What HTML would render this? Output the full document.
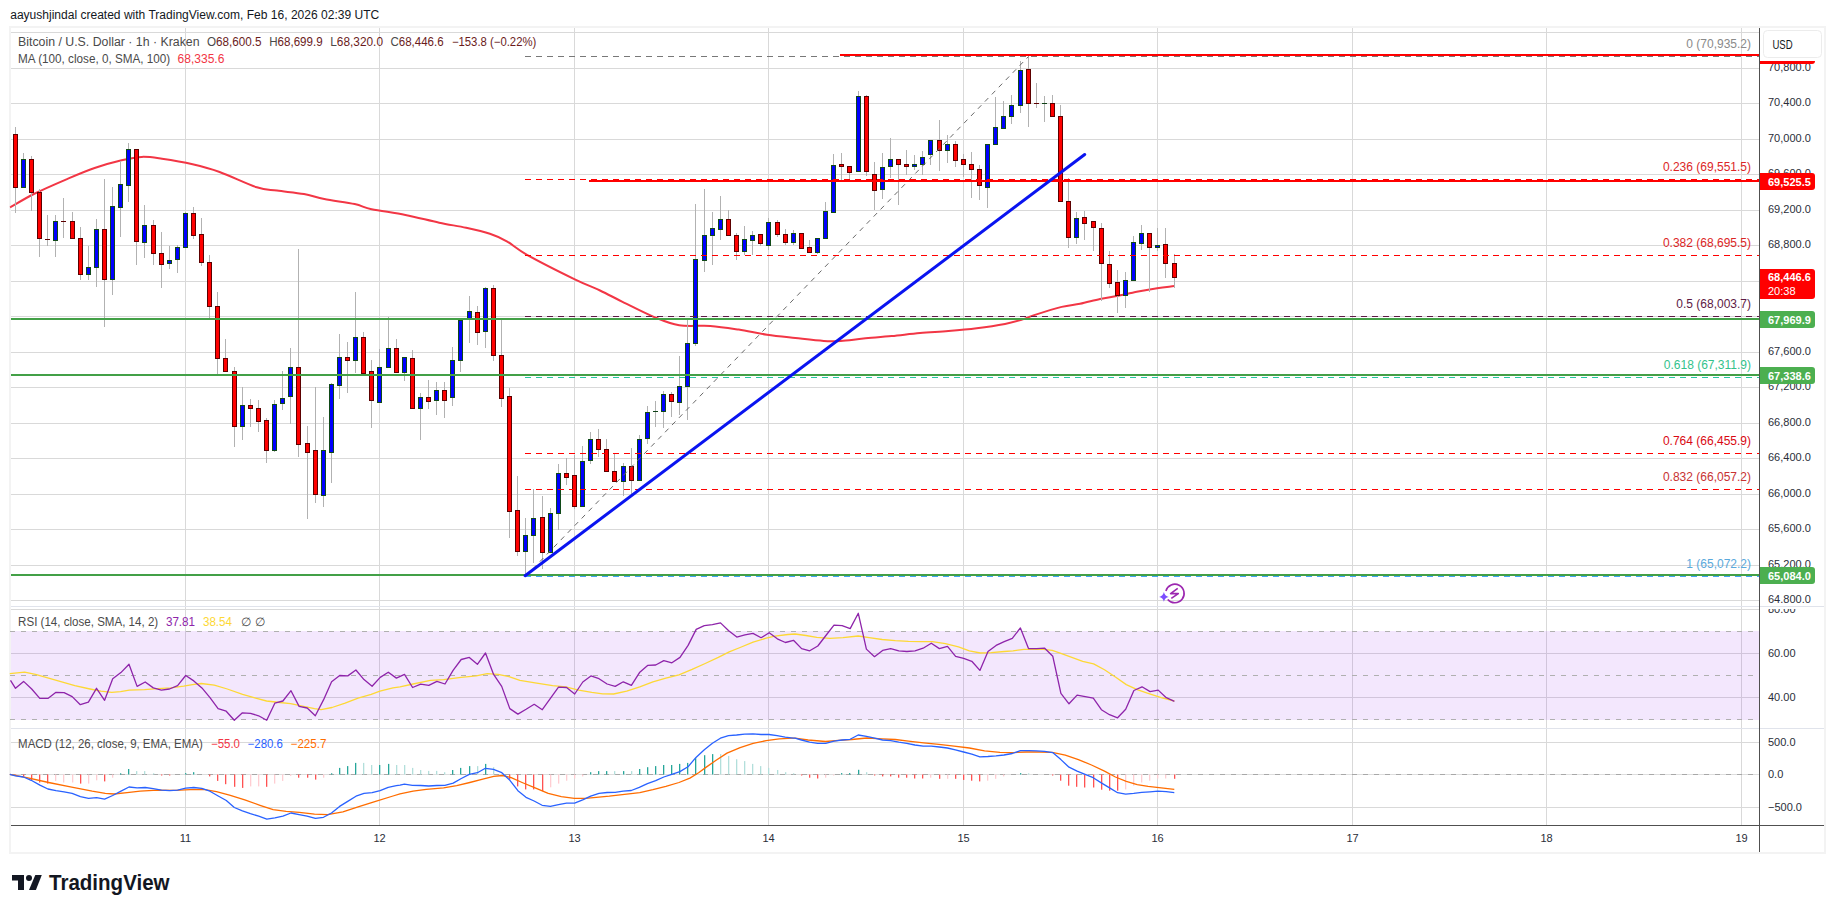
<!DOCTYPE html><html><head><meta charset="utf-8"><style>html,body{margin:0;padding:0;background:#fff;width:1835px;height:913px;overflow:hidden}svg{display:block}text{font-family:"Liberation Sans",sans-serif}</style></head><body>
<svg width="1835" height="913" viewBox="0 0 1835 913">
<rect x="0" y="0" width="1835" height="913" fill="#ffffff"/>
<text x="10.2" y="18.8" font-size="12" fill="#131722" textLength="369" lengthAdjust="spacingAndGlyphs">aayushjindal created with TradingView.com, Feb 16, 2026 02:39 UTC</text>
<rect x="9" y="26" width="1817" height="828" fill="#f3f3f3"/>
<rect x="11" y="28" width="1813" height="824" fill="#ffffff"/>
<g shape-rendering="crispEdges"><rect x="185" y="28" width="1" height="797" fill="#d9d9d9"/><rect x="379" y="28" width="1" height="797" fill="#d9d9d9"/><rect x="574" y="28" width="1" height="797" fill="#d9d9d9"/><rect x="768" y="28" width="1" height="797" fill="#d9d9d9"/><rect x="963" y="28" width="1" height="797" fill="#d9d9d9"/><rect x="1157" y="28" width="1" height="797" fill="#d9d9d9"/><rect x="1352" y="28" width="1" height="797" fill="#d9d9d9"/><rect x="1546" y="28" width="1" height="797" fill="#d9d9d9"/><rect x="1741" y="28" width="1" height="797" fill="#d9d9d9"/><rect x="11" y="32" width="1748" height="1" fill="#d9d9d9"/><rect x="11" y="68" width="1748" height="1" fill="#d9d9d9"/><rect x="11" y="103" width="1748" height="1" fill="#d9d9d9"/><rect x="11" y="139" width="1748" height="1" fill="#d9d9d9"/><rect x="11" y="174" width="1748" height="1" fill="#d9d9d9"/><rect x="11" y="210" width="1748" height="1" fill="#d9d9d9"/><rect x="11" y="245" width="1748" height="1" fill="#d9d9d9"/><rect x="11" y="281" width="1748" height="1" fill="#d9d9d9"/><rect x="11" y="316" width="1748" height="1" fill="#d9d9d9"/><rect x="11" y="352" width="1748" height="1" fill="#d9d9d9"/><rect x="11" y="387" width="1748" height="1" fill="#d9d9d9"/><rect x="11" y="423" width="1748" height="1" fill="#d9d9d9"/><rect x="11" y="458" width="1748" height="1" fill="#d9d9d9"/><rect x="11" y="494" width="1748" height="1" fill="#d9d9d9"/><rect x="11" y="529" width="1748" height="1" fill="#d9d9d9"/><rect x="11" y="565" width="1748" height="1" fill="#d9d9d9"/><rect x="11" y="600" width="1748" height="1" fill="#d9d9d9"/></g>
<g shape-rendering="crispEdges"><rect x="11" y="609" width="1748" height="1" fill="#d9d9d9"/><rect x="11" y="653" width="1748" height="1" fill="#d9d9d9"/><rect x="11" y="697" width="1748" height="1" fill="#d9d9d9"/><rect x="11" y="742" width="1748" height="1" fill="#d9d9d9"/><rect x="11" y="807" width="1748" height="1" fill="#d9d9d9"/></g>
<rect x="11" y="631" width="1748" height="89" fill="rgb(149,40,237)" fill-opacity="0.11"/>
<rect x="11" y="774" width="1748" height="1" fill="#dedede"/>
<line x1="10" y1="631.5" x2="1759" y2="631.5" stroke="#b0b0b0" stroke-width="1" stroke-dasharray="5 6" shape-rendering="crispEdges"/>
<line x1="10" y1="675.5" x2="1759" y2="675.5" stroke="#b0b0b0" stroke-width="1" stroke-dasharray="5 6" shape-rendering="crispEdges"/>
<line x1="10" y1="719.5" x2="1759" y2="719.5" stroke="#b0b0b0" stroke-width="1" stroke-dasharray="5 6" shape-rendering="crispEdges"/>
<line x1="10" y1="774.5" x2="1759" y2="774.5" stroke="#a8a8a8" stroke-width="1" stroke-dasharray="5 6" shape-rendering="crispEdges"/>
<path d="M10.10,207.50 C14.05,205.25 24.22,198.78 33.80,194.00 C43.38,189.22 57.47,183.13 67.60,178.80 C77.73,174.47 85.60,171.08 94.60,168.00 C103.60,164.92 113.72,162.15 121.60,160.30 C129.48,158.45 135.17,157.15 141.90,156.90 C148.63,156.65 153.55,157.57 162.00,158.80 C170.45,160.03 183.00,162.10 192.60,164.30 C202.20,166.50 208.90,168.17 219.60,172.00 C230.30,175.83 247.23,184.20 256.80,187.30 C266.37,190.40 269.13,189.48 277.00,190.60 C284.87,191.72 296.12,192.58 304.00,194.00 C311.88,195.42 315.85,197.42 324.30,199.10 C332.75,200.78 346.82,202.42 354.70,204.10 C362.58,205.78 363.15,207.40 371.60,209.20 C380.05,211.00 394.13,212.65 405.40,214.90 C416.67,217.15 429.07,220.55 439.20,222.70 C449.33,224.85 457.75,225.95 466.20,227.80 C474.65,229.65 483.13,231.55 489.90,233.80 C496.67,236.05 500.62,237.80 506.80,241.30 C512.98,244.80 515.75,248.50 527.00,254.80 C538.25,261.10 562.13,273.15 574.30,279.10 C586.47,285.05 591.97,286.72 600.00,290.50 C608.03,294.28 613.55,297.42 622.50,301.80 C631.45,306.18 644.25,312.88 653.70,316.80 C663.15,320.72 669.77,323.78 679.20,325.30 C688.63,326.82 700.38,325.18 710.30,325.90 C720.22,326.62 729.25,328.13 738.70,329.60 C748.15,331.07 757.55,333.30 767.00,334.70 C776.45,336.10 785.95,336.97 795.40,338.00 C804.85,339.03 816.15,340.42 823.70,340.90 C831.25,341.38 834.08,341.28 840.70,340.90 C847.32,340.52 854.90,339.40 863.40,338.60 C871.90,337.80 882.27,337.03 891.70,336.10 C901.13,335.17 910.55,333.85 920.00,333.00 C929.45,332.15 938.95,331.80 948.40,331.00 C957.85,330.20 967.27,329.38 976.70,328.20 C986.13,327.02 997.45,325.33 1005.00,323.90 C1012.55,322.47 1017.27,321.02 1022.00,319.60 C1026.73,318.18 1026.78,317.52 1033.40,315.40 C1040.02,313.28 1053.93,308.83 1061.70,306.90 C1069.47,304.97 1073.62,305.13 1080.00,303.80 C1086.38,302.47 1093.87,300.20 1100.00,298.90 C1106.13,297.60 1111.37,297.03 1116.80,296.00 C1122.23,294.97 1127.12,293.80 1132.60,292.70 C1138.08,291.60 1142.80,290.50 1149.70,289.40 C1156.60,288.30 1169.95,286.65 1174.00,286.10" fill="none" stroke="#f23645" stroke-width="2" stroke-linejoin="round"/>
<g shape-rendering="crispEdges"><rect x="15" y="127" width="1" height="86" fill="#b2b2b2"/><rect x="23" y="153" width="1" height="35" fill="#b2b2b2"/><rect x="31" y="156" width="1" height="55" fill="#b2b2b2"/><rect x="39" y="189" width="1" height="68" fill="#b2b2b2"/><rect x="47" y="215" width="1" height="31" fill="#b2b2b2"/><rect x="55" y="215" width="1" height="42" fill="#b2b2b2"/><rect x="63" y="198" width="1" height="40" fill="#b2b2b2"/><rect x="72" y="212" width="1" height="27" fill="#b2b2b2"/><rect x="80" y="227" width="1" height="53" fill="#b2b2b2"/><rect x="88" y="246" width="1" height="34" fill="#b2b2b2"/><rect x="96" y="219" width="1" height="68" fill="#b2b2b2"/><rect x="104" y="179" width="1" height="148" fill="#b2b2b2"/><rect x="112" y="187" width="1" height="108" fill="#b2b2b2"/><rect x="120" y="161" width="1" height="76" fill="#b2b2b2"/><rect x="128" y="143" width="1" height="59" fill="#b2b2b2"/><rect x="136" y="149" width="1" height="116" fill="#b2b2b2"/><rect x="144" y="205" width="1" height="53" fill="#b2b2b2"/><rect x="153" y="220" width="1" height="45" fill="#b2b2b2"/><rect x="161" y="232" width="1" height="56" fill="#b2b2b2"/><rect x="169" y="246" width="1" height="23" fill="#b2b2b2"/><rect x="177" y="245" width="1" height="28" fill="#b2b2b2"/><rect x="185" y="212" width="1" height="36" fill="#b2b2b2"/><rect x="193" y="207" width="1" height="32" fill="#b2b2b2"/><rect x="201" y="218" width="1" height="48" fill="#b2b2b2"/><rect x="209" y="255" width="1" height="64" fill="#b2b2b2"/><rect x="217" y="292" width="1" height="82" fill="#b2b2b2"/><rect x="225" y="339" width="1" height="33" fill="#b2b2b2"/><rect x="234" y="367" width="1" height="80" fill="#b2b2b2"/><rect x="242" y="387" width="1" height="53" fill="#b2b2b2"/><rect x="250" y="399" width="1" height="28" fill="#b2b2b2"/><rect x="258" y="400" width="1" height="32" fill="#b2b2b2"/><rect x="266" y="418" width="1" height="45" fill="#b2b2b2"/><rect x="274" y="400" width="1" height="52" fill="#b2b2b2"/><rect x="282" y="371" width="1" height="39" fill="#b2b2b2"/><rect x="290" y="348" width="1" height="76" fill="#b2b2b2"/><rect x="298" y="249" width="1" height="208" fill="#b2b2b2"/><rect x="307" y="426" width="1" height="93" fill="#b2b2b2"/><rect x="315" y="387" width="1" height="116" fill="#b2b2b2"/><rect x="323" y="417" width="1" height="90" fill="#b2b2b2"/><rect x="331" y="383" width="1" height="100" fill="#b2b2b2"/><rect x="339" y="334" width="1" height="65" fill="#b2b2b2"/><rect x="347" y="342" width="1" height="51" fill="#b2b2b2"/><rect x="355" y="292" width="1" height="81" fill="#b2b2b2"/><rect x="363" y="332" width="1" height="42" fill="#b2b2b2"/><rect x="371" y="360" width="1" height="68" fill="#b2b2b2"/><rect x="379" y="349" width="1" height="54" fill="#b2b2b2"/><rect x="388" y="317" width="1" height="51" fill="#b2b2b2"/><rect x="396" y="339" width="1" height="34" fill="#b2b2b2"/><rect x="404" y="357" width="1" height="24" fill="#b2b2b2"/><rect x="412" y="350" width="1" height="59" fill="#b2b2b2"/><rect x="420" y="393" width="1" height="47" fill="#b2b2b2"/><rect x="428" y="380" width="1" height="29" fill="#b2b2b2"/><rect x="436" y="382" width="1" height="33" fill="#b2b2b2"/><rect x="444" y="382" width="1" height="36" fill="#b2b2b2"/><rect x="452" y="347" width="1" height="59" fill="#b2b2b2"/><rect x="460" y="319" width="1" height="53" fill="#b2b2b2"/><rect x="469" y="296" width="1" height="47" fill="#b2b2b2"/><rect x="477" y="306" width="1" height="39" fill="#b2b2b2"/><rect x="485" y="287" width="1" height="61" fill="#b2b2b2"/><rect x="493" y="285" width="1" height="76" fill="#b2b2b2"/><rect x="501" y="320" width="1" height="87" fill="#b2b2b2"/><rect x="509" y="388" width="1" height="150" fill="#b2b2b2"/><rect x="517" y="476" width="1" height="80" fill="#b2b2b2"/><rect x="525" y="518" width="1" height="59" fill="#b2b2b2"/><rect x="533" y="489" width="1" height="74" fill="#b2b2b2"/><rect x="542" y="496" width="1" height="73" fill="#b2b2b2"/><rect x="550" y="508" width="1" height="45" fill="#b2b2b2"/><rect x="558" y="464" width="1" height="66" fill="#b2b2b2"/><rect x="566" y="458" width="1" height="27" fill="#b2b2b2"/><rect x="574" y="455" width="1" height="54" fill="#b2b2b2"/><rect x="582" y="446" width="1" height="61" fill="#b2b2b2"/><rect x="590" y="432" width="1" height="32" fill="#b2b2b2"/><rect x="598" y="429" width="1" height="28" fill="#b2b2b2"/><rect x="606" y="439" width="1" height="33" fill="#b2b2b2"/><rect x="614" y="454" width="1" height="28" fill="#b2b2b2"/><rect x="623" y="463" width="1" height="33" fill="#b2b2b2"/><rect x="631" y="448" width="1" height="47" fill="#b2b2b2"/><rect x="639" y="435" width="1" height="46" fill="#b2b2b2"/><rect x="647" y="406" width="1" height="38" fill="#b2b2b2"/><rect x="655" y="401" width="1" height="26" fill="#b2b2b2"/><rect x="663" y="391" width="1" height="37" fill="#b2b2b2"/><rect x="671" y="392" width="1" height="25" fill="#b2b2b2"/><rect x="679" y="356" width="1" height="59" fill="#b2b2b2"/><rect x="687" y="320" width="1" height="100" fill="#b2b2b2"/><rect x="695" y="204" width="1" height="142" fill="#b2b2b2"/><rect x="704" y="189" width="1" height="83" fill="#b2b2b2"/><rect x="712" y="212" width="1" height="53" fill="#b2b2b2"/><rect x="720" y="196" width="1" height="44" fill="#b2b2b2"/><rect x="728" y="210" width="1" height="26" fill="#b2b2b2"/><rect x="736" y="233" width="1" height="27" fill="#b2b2b2"/><rect x="744" y="226" width="1" height="29" fill="#b2b2b2"/><rect x="752" y="231" width="1" height="24" fill="#b2b2b2"/><rect x="760" y="234" width="1" height="12" fill="#b2b2b2"/><rect x="768" y="218" width="1" height="32" fill="#b2b2b2"/><rect x="777" y="220" width="1" height="17" fill="#b2b2b2"/><rect x="785" y="229" width="1" height="16" fill="#b2b2b2"/><rect x="793" y="230" width="1" height="15" fill="#b2b2b2"/><rect x="801" y="233" width="1" height="16" fill="#b2b2b2"/><rect x="809" y="240" width="1" height="13" fill="#b2b2b2"/><rect x="817" y="238" width="1" height="16" fill="#b2b2b2"/><rect x="825" y="202" width="1" height="37" fill="#b2b2b2"/><rect x="833" y="154" width="1" height="59" fill="#b2b2b2"/><rect x="841" y="153" width="1" height="27" fill="#b2b2b2"/><rect x="849" y="166" width="1" height="13" fill="#b2b2b2"/><rect x="858" y="91" width="1" height="81" fill="#b2b2b2"/><rect x="866" y="95" width="1" height="81" fill="#b2b2b2"/><rect x="874" y="162" width="1" height="48" fill="#b2b2b2"/><rect x="882" y="153" width="1" height="46" fill="#b2b2b2"/><rect x="890" y="138" width="1" height="40" fill="#b2b2b2"/><rect x="898" y="159" width="1" height="46" fill="#b2b2b2"/><rect x="906" y="150" width="1" height="25" fill="#b2b2b2"/><rect x="914" y="155" width="1" height="15" fill="#b2b2b2"/><rect x="922" y="151" width="1" height="24" fill="#b2b2b2"/><rect x="930" y="140" width="1" height="25" fill="#b2b2b2"/><rect x="939" y="120" width="1" height="51" fill="#b2b2b2"/><rect x="947" y="135" width="1" height="28" fill="#b2b2b2"/><rect x="955" y="141" width="1" height="26" fill="#b2b2b2"/><rect x="963" y="154" width="1" height="23" fill="#b2b2b2"/><rect x="971" y="152" width="1" height="46" fill="#b2b2b2"/><rect x="979" y="165" width="1" height="35" fill="#b2b2b2"/><rect x="987" y="144" width="1" height="64" fill="#b2b2b2"/><rect x="995" y="97" width="1" height="48" fill="#b2b2b2"/><rect x="1003" y="101" width="1" height="28" fill="#b2b2b2"/><rect x="1011" y="95" width="1" height="29" fill="#b2b2b2"/><rect x="1020" y="61" width="1" height="52" fill="#b2b2b2"/><rect x="1028" y="56" width="1" height="71" fill="#b2b2b2"/><rect x="1036" y="83" width="1" height="25" fill="#b2b2b2"/><rect x="1044" y="96" width="1" height="26" fill="#b2b2b2"/><rect x="1052" y="95" width="1" height="22" fill="#b2b2b2"/><rect x="1060" y="105" width="1" height="97" fill="#b2b2b2"/><rect x="1068" y="178" width="1" height="70" fill="#b2b2b2"/><rect x="1076" y="212" width="1" height="32" fill="#b2b2b2"/><rect x="1084" y="211" width="1" height="29" fill="#b2b2b2"/><rect x="1093" y="221" width="1" height="30" fill="#b2b2b2"/><rect x="1101" y="223" width="1" height="78" fill="#b2b2b2"/><rect x="1109" y="251" width="1" height="37" fill="#b2b2b2"/><rect x="1117" y="270" width="1" height="43" fill="#b2b2b2"/><rect x="1125" y="272" width="1" height="36" fill="#b2b2b2"/><rect x="1133" y="236" width="1" height="45" fill="#b2b2b2"/><rect x="1141" y="225" width="1" height="25" fill="#b2b2b2"/><rect x="1149" y="233" width="1" height="59" fill="#b2b2b2"/><rect x="1157" y="228" width="1" height="23" fill="#b2b2b2"/><rect x="1165" y="228" width="1" height="50" fill="#b2b2b2"/><rect x="1174" y="254" width="1" height="34" fill="#b2b2b2"/><rect x="13" y="134" width="5" height="54" fill="#5c0000"/><rect x="14" y="135" width="3" height="52" fill="#ff0000"/><rect x="21" y="159" width="5" height="29" fill="#104a18"/><rect x="22" y="160" width="3" height="27" fill="#0000ff"/><rect x="29" y="159" width="5" height="34" fill="#5c0000"/><rect x="30" y="160" width="3" height="32" fill="#ff0000"/><rect x="37" y="192" width="5" height="47" fill="#5c0000"/><rect x="38" y="193" width="3" height="45" fill="#ff0000"/><rect x="45" y="239" width="5" height="1" fill="#5c0000"/><rect x="53" y="221" width="5" height="20" fill="#104a18"/><rect x="54" y="222" width="3" height="18" fill="#0000ff"/><rect x="61" y="221" width="5" height="1" fill="#5c0000"/><rect x="70" y="221" width="5" height="18" fill="#5c0000"/><rect x="71" y="222" width="3" height="16" fill="#ff0000"/><rect x="78" y="238" width="5" height="37" fill="#5c0000"/><rect x="79" y="239" width="3" height="35" fill="#ff0000"/><rect x="86" y="267" width="5" height="8" fill="#104a18"/><rect x="87" y="268" width="3" height="6" fill="#0000ff"/><rect x="94" y="229" width="5" height="39" fill="#104a18"/><rect x="95" y="230" width="3" height="37" fill="#0000ff"/><rect x="102" y="229" width="5" height="51" fill="#5c0000"/><rect x="103" y="230" width="3" height="49" fill="#ff0000"/><rect x="110" y="206" width="5" height="74" fill="#104a18"/><rect x="111" y="207" width="3" height="72" fill="#0000ff"/><rect x="118" y="184" width="5" height="24" fill="#104a18"/><rect x="119" y="185" width="3" height="22" fill="#0000ff"/><rect x="126" y="149" width="5" height="37" fill="#104a18"/><rect x="127" y="150" width="3" height="35" fill="#0000ff"/><rect x="134" y="149" width="5" height="93" fill="#5c0000"/><rect x="135" y="150" width="3" height="91" fill="#ff0000"/><rect x="142" y="225" width="5" height="18" fill="#104a18"/><rect x="143" y="226" width="3" height="16" fill="#0000ff"/><rect x="151" y="225" width="5" height="29" fill="#5c0000"/><rect x="152" y="226" width="3" height="27" fill="#ff0000"/><rect x="159" y="253" width="5" height="12" fill="#5c0000"/><rect x="160" y="254" width="3" height="10" fill="#ff0000"/><rect x="167" y="260" width="5" height="4" fill="#104a18"/><rect x="168" y="261" width="3" height="2" fill="#0000ff"/><rect x="175" y="247" width="5" height="13" fill="#104a18"/><rect x="176" y="248" width="3" height="11" fill="#0000ff"/><rect x="183" y="213" width="5" height="35" fill="#104a18"/><rect x="184" y="214" width="3" height="33" fill="#0000ff"/><rect x="191" y="213" width="5" height="23" fill="#5c0000"/><rect x="192" y="214" width="3" height="21" fill="#ff0000"/><rect x="199" y="234" width="5" height="29" fill="#5c0000"/><rect x="200" y="235" width="3" height="27" fill="#ff0000"/><rect x="207" y="262" width="5" height="45" fill="#5c0000"/><rect x="208" y="263" width="3" height="43" fill="#ff0000"/><rect x="215" y="306" width="5" height="53" fill="#5c0000"/><rect x="216" y="307" width="3" height="51" fill="#ff0000"/><rect x="223" y="358" width="5" height="14" fill="#5c0000"/><rect x="224" y="359" width="3" height="12" fill="#ff0000"/><rect x="232" y="371" width="5" height="56" fill="#5c0000"/><rect x="233" y="372" width="3" height="54" fill="#ff0000"/><rect x="240" y="405" width="5" height="22" fill="#104a18"/><rect x="241" y="406" width="3" height="20" fill="#0000ff"/><rect x="248" y="405" width="5" height="4" fill="#5c0000"/><rect x="249" y="406" width="3" height="2" fill="#ff0000"/><rect x="256" y="408" width="5" height="14" fill="#5c0000"/><rect x="257" y="409" width="3" height="12" fill="#ff0000"/><rect x="264" y="420" width="5" height="31" fill="#5c0000"/><rect x="265" y="421" width="3" height="29" fill="#ff0000"/><rect x="272" y="404" width="5" height="47" fill="#104a18"/><rect x="273" y="405" width="3" height="45" fill="#0000ff"/><rect x="280" y="398" width="5" height="6" fill="#104a18"/><rect x="281" y="399" width="3" height="4" fill="#0000ff"/><rect x="288" y="367" width="5" height="30" fill="#104a18"/><rect x="289" y="368" width="3" height="28" fill="#0000ff"/><rect x="296" y="367" width="5" height="78" fill="#5c0000"/><rect x="297" y="368" width="3" height="76" fill="#ff0000"/><rect x="305" y="443" width="5" height="10" fill="#5c0000"/><rect x="306" y="444" width="3" height="8" fill="#ff0000"/><rect x="313" y="450" width="5" height="45" fill="#5c0000"/><rect x="314" y="451" width="3" height="43" fill="#ff0000"/><rect x="321" y="450" width="5" height="46" fill="#104a18"/><rect x="322" y="451" width="3" height="44" fill="#0000ff"/><rect x="329" y="384" width="5" height="69" fill="#104a18"/><rect x="330" y="385" width="3" height="67" fill="#0000ff"/><rect x="337" y="357" width="5" height="29" fill="#104a18"/><rect x="338" y="358" width="3" height="27" fill="#0000ff"/><rect x="345" y="357" width="5" height="4" fill="#5c0000"/><rect x="346" y="358" width="3" height="2" fill="#ff0000"/><rect x="353" y="337" width="5" height="24" fill="#104a18"/><rect x="354" y="338" width="3" height="22" fill="#0000ff"/><rect x="361" y="337" width="5" height="37" fill="#5c0000"/><rect x="362" y="338" width="3" height="35" fill="#ff0000"/><rect x="369" y="371" width="5" height="30" fill="#5c0000"/><rect x="370" y="372" width="3" height="28" fill="#ff0000"/><rect x="377" y="367" width="5" height="36" fill="#104a18"/><rect x="378" y="368" width="3" height="34" fill="#0000ff"/><rect x="386" y="348" width="5" height="20" fill="#104a18"/><rect x="387" y="349" width="3" height="18" fill="#0000ff"/><rect x="394" y="348" width="5" height="25" fill="#5c0000"/><rect x="395" y="349" width="3" height="23" fill="#ff0000"/><rect x="402" y="357" width="5" height="16" fill="#104a18"/><rect x="403" y="358" width="3" height="14" fill="#0000ff"/><rect x="410" y="358" width="5" height="51" fill="#5c0000"/><rect x="411" y="359" width="3" height="49" fill="#ff0000"/><rect x="418" y="397" width="5" height="12" fill="#104a18"/><rect x="419" y="398" width="3" height="10" fill="#0000ff"/><rect x="426" y="397" width="5" height="5" fill="#5c0000"/><rect x="427" y="398" width="3" height="3" fill="#ff0000"/><rect x="434" y="390" width="5" height="11" fill="#104a18"/><rect x="435" y="391" width="3" height="9" fill="#0000ff"/><rect x="442" y="390" width="5" height="11" fill="#5c0000"/><rect x="443" y="391" width="3" height="9" fill="#ff0000"/><rect x="450" y="360" width="5" height="38" fill="#104a18"/><rect x="451" y="361" width="3" height="36" fill="#0000ff"/><rect x="458" y="320" width="5" height="41" fill="#104a18"/><rect x="459" y="321" width="3" height="39" fill="#0000ff"/><rect x="467" y="311" width="5" height="8" fill="#104a18"/><rect x="468" y="312" width="3" height="6" fill="#0000ff"/><rect x="475" y="312" width="5" height="21" fill="#5c0000"/><rect x="476" y="313" width="3" height="19" fill="#ff0000"/><rect x="483" y="288" width="5" height="44" fill="#104a18"/><rect x="484" y="289" width="3" height="42" fill="#0000ff"/><rect x="491" y="288" width="5" height="68" fill="#5c0000"/><rect x="492" y="289" width="3" height="66" fill="#ff0000"/><rect x="499" y="355" width="5" height="44" fill="#5c0000"/><rect x="500" y="356" width="3" height="42" fill="#ff0000"/><rect x="507" y="396" width="5" height="116" fill="#5c0000"/><rect x="508" y="397" width="3" height="114" fill="#ff0000"/><rect x="515" y="510" width="5" height="42" fill="#5c0000"/><rect x="516" y="511" width="3" height="40" fill="#ff0000"/><rect x="523" y="535" width="5" height="17" fill="#104a18"/><rect x="524" y="536" width="3" height="15" fill="#0000ff"/><rect x="531" y="518" width="5" height="18" fill="#104a18"/><rect x="532" y="519" width="3" height="16" fill="#0000ff"/><rect x="540" y="517" width="5" height="36" fill="#5c0000"/><rect x="541" y="518" width="3" height="34" fill="#ff0000"/><rect x="548" y="513" width="5" height="40" fill="#104a18"/><rect x="549" y="514" width="3" height="38" fill="#0000ff"/><rect x="556" y="473" width="5" height="41" fill="#104a18"/><rect x="557" y="474" width="3" height="39" fill="#0000ff"/><rect x="564" y="473" width="5" height="5" fill="#5c0000"/><rect x="565" y="474" width="3" height="3" fill="#ff0000"/><rect x="572" y="475" width="5" height="32" fill="#5c0000"/><rect x="573" y="476" width="3" height="30" fill="#ff0000"/><rect x="580" y="461" width="5" height="46" fill="#104a18"/><rect x="581" y="462" width="3" height="44" fill="#0000ff"/><rect x="588" y="439" width="5" height="22" fill="#104a18"/><rect x="589" y="440" width="3" height="20" fill="#0000ff"/><rect x="596" y="439" width="5" height="11" fill="#5c0000"/><rect x="597" y="440" width="3" height="9" fill="#ff0000"/><rect x="604" y="449" width="5" height="23" fill="#5c0000"/><rect x="605" y="450" width="3" height="21" fill="#ff0000"/><rect x="612" y="471" width="5" height="11" fill="#5c0000"/><rect x="613" y="472" width="3" height="9" fill="#ff0000"/><rect x="621" y="466" width="5" height="16" fill="#104a18"/><rect x="622" y="467" width="3" height="14" fill="#0000ff"/><rect x="629" y="466" width="5" height="15" fill="#5c0000"/><rect x="630" y="467" width="3" height="13" fill="#ff0000"/><rect x="637" y="439" width="5" height="42" fill="#104a18"/><rect x="638" y="440" width="3" height="40" fill="#0000ff"/><rect x="645" y="412" width="5" height="27" fill="#104a18"/><rect x="646" y="413" width="3" height="25" fill="#0000ff"/><rect x="653" y="411" width="5" height="1" fill="#0d4015"/><rect x="661" y="394" width="5" height="18" fill="#104a18"/><rect x="662" y="395" width="3" height="16" fill="#0000ff"/><rect x="669" y="394" width="5" height="8" fill="#5c0000"/><rect x="670" y="395" width="3" height="6" fill="#ff0000"/><rect x="677" y="386" width="5" height="17" fill="#104a18"/><rect x="678" y="387" width="3" height="15" fill="#0000ff"/><rect x="685" y="343" width="5" height="44" fill="#104a18"/><rect x="686" y="344" width="3" height="42" fill="#0000ff"/><rect x="693" y="259" width="5" height="85" fill="#104a18"/><rect x="694" y="260" width="3" height="83" fill="#0000ff"/><rect x="702" y="235" width="5" height="26" fill="#104a18"/><rect x="703" y="236" width="3" height="24" fill="#0000ff"/><rect x="710" y="228" width="5" height="8" fill="#104a18"/><rect x="711" y="229" width="3" height="6" fill="#0000ff"/><rect x="718" y="219" width="5" height="11" fill="#104a18"/><rect x="719" y="220" width="3" height="9" fill="#0000ff"/><rect x="726" y="219" width="5" height="17" fill="#5c0000"/><rect x="727" y="220" width="3" height="15" fill="#ff0000"/><rect x="734" y="235" width="5" height="17" fill="#5c0000"/><rect x="735" y="236" width="3" height="15" fill="#ff0000"/><rect x="742" y="239" width="5" height="13" fill="#104a18"/><rect x="743" y="240" width="3" height="11" fill="#0000ff"/><rect x="750" y="235" width="5" height="6" fill="#104a18"/><rect x="751" y="236" width="3" height="4" fill="#0000ff"/><rect x="758" y="234" width="5" height="10" fill="#5c0000"/><rect x="759" y="235" width="3" height="8" fill="#ff0000"/><rect x="766" y="222" width="5" height="24" fill="#104a18"/><rect x="767" y="223" width="3" height="22" fill="#0000ff"/><rect x="775" y="222" width="5" height="13" fill="#5c0000"/><rect x="776" y="223" width="3" height="11" fill="#ff0000"/><rect x="783" y="234" width="5" height="9" fill="#5c0000"/><rect x="784" y="235" width="3" height="7" fill="#ff0000"/><rect x="791" y="233" width="5" height="10" fill="#104a18"/><rect x="792" y="234" width="3" height="8" fill="#0000ff"/><rect x="799" y="233" width="5" height="16" fill="#5c0000"/><rect x="800" y="234" width="3" height="14" fill="#ff0000"/><rect x="807" y="247" width="5" height="6" fill="#5c0000"/><rect x="808" y="248" width="3" height="4" fill="#ff0000"/><rect x="815" y="238" width="5" height="15" fill="#104a18"/><rect x="816" y="239" width="3" height="13" fill="#0000ff"/><rect x="823" y="211" width="5" height="28" fill="#104a18"/><rect x="824" y="212" width="3" height="26" fill="#0000ff"/><rect x="831" y="165" width="5" height="48" fill="#104a18"/><rect x="832" y="166" width="3" height="46" fill="#0000ff"/><rect x="839" y="164" width="5" height="3" fill="#5c0000"/><rect x="840" y="165" width="3" height="1" fill="#ff0000"/><rect x="847" y="166" width="5" height="7" fill="#5c0000"/><rect x="848" y="167" width="3" height="5" fill="#ff0000"/><rect x="856" y="96" width="5" height="76" fill="#104a18"/><rect x="857" y="97" width="3" height="74" fill="#0000ff"/><rect x="864" y="96" width="5" height="76" fill="#5c0000"/><rect x="865" y="97" width="3" height="74" fill="#ff0000"/><rect x="872" y="174" width="5" height="17" fill="#5c0000"/><rect x="873" y="175" width="3" height="15" fill="#ff0000"/><rect x="880" y="167" width="5" height="23" fill="#104a18"/><rect x="881" y="168" width="3" height="21" fill="#0000ff"/><rect x="888" y="159" width="5" height="8" fill="#104a18"/><rect x="889" y="160" width="3" height="6" fill="#0000ff"/><rect x="896" y="159" width="5" height="6" fill="#5c0000"/><rect x="897" y="160" width="3" height="4" fill="#ff0000"/><rect x="904" y="164" width="5" height="3" fill="#5c0000"/><rect x="905" y="165" width="3" height="1" fill="#ff0000"/><rect x="912" y="164" width="5" height="3" fill="#104a18"/><rect x="913" y="165" width="3" height="1" fill="#0000ff"/><rect x="920" y="157" width="5" height="8" fill="#104a18"/><rect x="921" y="158" width="3" height="6" fill="#0000ff"/><rect x="928" y="140" width="5" height="15" fill="#104a18"/><rect x="929" y="141" width="3" height="13" fill="#0000ff"/><rect x="937" y="140" width="5" height="11" fill="#5c0000"/><rect x="938" y="141" width="3" height="9" fill="#ff0000"/><rect x="945" y="144" width="5" height="7" fill="#104a18"/><rect x="946" y="145" width="3" height="5" fill="#0000ff"/><rect x="953" y="144" width="5" height="17" fill="#5c0000"/><rect x="954" y="145" width="3" height="15" fill="#ff0000"/><rect x="961" y="159" width="5" height="6" fill="#5c0000"/><rect x="962" y="160" width="3" height="4" fill="#ff0000"/><rect x="969" y="164" width="5" height="6" fill="#5c0000"/><rect x="970" y="165" width="3" height="4" fill="#ff0000"/><rect x="977" y="169" width="5" height="17" fill="#5c0000"/><rect x="978" y="170" width="3" height="15" fill="#ff0000"/><rect x="985" y="144" width="5" height="44" fill="#104a18"/><rect x="986" y="145" width="3" height="42" fill="#0000ff"/><rect x="993" y="127" width="5" height="18" fill="#104a18"/><rect x="994" y="128" width="3" height="16" fill="#0000ff"/><rect x="1001" y="116" width="5" height="13" fill="#104a18"/><rect x="1002" y="117" width="3" height="11" fill="#0000ff"/><rect x="1009" y="105" width="5" height="12" fill="#104a18"/><rect x="1010" y="106" width="3" height="10" fill="#0000ff"/><rect x="1018" y="70" width="5" height="36" fill="#104a18"/><rect x="1019" y="71" width="3" height="34" fill="#0000ff"/><rect x="1026" y="69" width="5" height="35" fill="#5c0000"/><rect x="1027" y="70" width="3" height="33" fill="#ff0000"/><rect x="1034" y="103" width="5" height="1" fill="#5c0000"/><rect x="1042" y="103" width="5" height="1" fill="#0d4015"/><rect x="1050" y="103" width="5" height="14" fill="#5c0000"/><rect x="1051" y="104" width="3" height="12" fill="#ff0000"/><rect x="1058" y="116" width="5" height="86" fill="#5c0000"/><rect x="1059" y="117" width="3" height="84" fill="#ff0000"/><rect x="1066" y="201" width="5" height="37" fill="#5c0000"/><rect x="1067" y="202" width="3" height="35" fill="#ff0000"/><rect x="1074" y="218" width="5" height="20" fill="#104a18"/><rect x="1075" y="219" width="3" height="18" fill="#0000ff"/><rect x="1082" y="217" width="5" height="7" fill="#5c0000"/><rect x="1083" y="218" width="3" height="5" fill="#ff0000"/><rect x="1091" y="221" width="5" height="7" fill="#5c0000"/><rect x="1092" y="222" width="3" height="5" fill="#ff0000"/><rect x="1099" y="228" width="5" height="36" fill="#5c0000"/><rect x="1100" y="229" width="3" height="34" fill="#ff0000"/><rect x="1107" y="264" width="5" height="20" fill="#5c0000"/><rect x="1108" y="265" width="3" height="18" fill="#ff0000"/><rect x="1115" y="282" width="5" height="14" fill="#5c0000"/><rect x="1116" y="283" width="3" height="12" fill="#ff0000"/><rect x="1123" y="280" width="5" height="16" fill="#104a18"/><rect x="1124" y="281" width="3" height="14" fill="#0000ff"/><rect x="1131" y="242" width="5" height="39" fill="#104a18"/><rect x="1132" y="243" width="3" height="37" fill="#0000ff"/><rect x="1139" y="233" width="5" height="11" fill="#104a18"/><rect x="1140" y="234" width="3" height="9" fill="#0000ff"/><rect x="1147" y="233" width="5" height="15" fill="#5c0000"/><rect x="1148" y="234" width="3" height="13" fill="#ff0000"/><rect x="1155" y="245" width="5" height="3" fill="#104a18"/><rect x="1156" y="246" width="3" height="1" fill="#0000ff"/><rect x="1163" y="244" width="5" height="20" fill="#5c0000"/><rect x="1164" y="245" width="3" height="18" fill="#ff0000"/><rect x="1172" y="263" width="5" height="15" fill="#5c0000"/><rect x="1173" y="264" width="3" height="13" fill="#ff0000"/></g>
<line x1="525" y1="56.5" x2="1759" y2="56.5" stroke="#787878" stroke-width="1" stroke-dasharray="6 5" shape-rendering="crispEdges"/>
<line x1="525" y1="179.5" x2="1759" y2="179.5" stroke="#ff0000" stroke-width="1" stroke-dasharray="6 5" shape-rendering="crispEdges"/>
<line x1="525" y1="255.5" x2="1759" y2="255.5" stroke="#ff0000" stroke-width="1" stroke-dasharray="6 5" shape-rendering="crispEdges"/>
<line x1="525" y1="316.5" x2="1759" y2="316.5" stroke="#5d1a45" stroke-width="1" stroke-dasharray="6 5" shape-rendering="crispEdges"/>
<line x1="525" y1="377.5" x2="1759" y2="377.5" stroke="#26c6a0" stroke-width="1" stroke-dasharray="6 5" shape-rendering="crispEdges"/>
<line x1="525" y1="453.5" x2="1759" y2="453.5" stroke="#ff0000" stroke-width="1" stroke-dasharray="6 5" shape-rendering="crispEdges"/>
<line x1="525" y1="489.5" x2="1759" y2="489.5" stroke="#ff0000" stroke-width="1" stroke-dasharray="6 5" shape-rendering="crispEdges"/>
<line x1="525" y1="576.5" x2="1759" y2="576.5" stroke="#42a5f5" stroke-width="1" stroke-dasharray="6 5" shape-rendering="crispEdges"/>
<line x1="526" y1="576" x2="1028.5" y2="56.5" stroke="#6a6a6a" stroke-width="1" stroke-dasharray="5 5"/>
<g shape-rendering="crispEdges"><rect x="840" y="54" width="919" height="2" fill="#ff0000"/><rect x="589" y="180" width="1170" height="2" fill="#ff0000"/><rect x="11" y="318" width="1748" height="2" fill="#43a047"/><rect x="11" y="374" width="1748" height="2" fill="#43a047"/><rect x="11" y="574" width="1748" height="2" fill="#43a047"/></g>
<line x1="525.1" y1="575.7" x2="1084.7" y2="154.5" stroke="#0a14f0" stroke-width="3" stroke-linecap="round"/>
<text x="1751" y="48.0" font-size="12" fill="#8a8a8a" text-anchor="end">0 (70,935.2)</text>
<text x="1751" y="170.7" font-size="12" fill="#dc2626" text-anchor="end">0.236 (69,551.5)</text>
<text x="1751" y="246.6" font-size="12" fill="#dc2626" text-anchor="end">0.382 (68,695.5)</text>
<text x="1751" y="307.9" font-size="12" fill="#5d1a45" text-anchor="end">0.5 (68,003.7)</text>
<text x="1751" y="369.3" font-size="12" fill="#33c28c" text-anchor="end">0.618 (67,311.9)</text>
<text x="1751" y="445.2" font-size="12" fill="#d90812" text-anchor="end">0.764 (66,455.9)</text>
<text x="1751" y="480.5" font-size="12" fill="#c83232" text-anchor="end">0.832 (66,057.2)</text>
<text x="1751" y="567.9" font-size="12" fill="#5aa9dc" text-anchor="end">1 (65,072.2)</text>
<polyline points="9.8,673.7 24.6,672.2 35.5,674.4 48.6,678.1 61.7,681.8 74.8,685.7 90.0,689.0 100.9,691.2 111.8,692.3 120.5,691.6 129.3,690.1 144.5,689.6 157.6,688.6 170.7,687.9 183.7,686.2 192.5,684.6 201.2,683.5 214.3,685.1 227.3,689.0 242.6,694.4 255.7,698.2 266.6,701.0 279.7,702.5 290.6,703.6 303.6,706.4 314.5,708.6 321.1,709.7 332.0,707.5 345.1,703.2 358.1,698.2 371.2,694.4 379.9,691.2 393.0,687.9 400.0,686.8 413.1,684.0 430.5,680.3 443.6,679.6 461.0,677.4 476.3,675.9 487.2,673.7 498.1,674.4 509.0,676.6 519.9,680.3 535.1,682.9 552.6,685.7 565.7,686.8 578.7,690.1 591.8,692.3 602.7,693.8 613.6,694.0 626.7,691.2 639.8,686.8 652.9,681.8 665.9,678.1 679.0,674.8 692.1,669.4 705.2,663.5 718.3,657.4 729.2,651.9 740.1,647.5 753.1,642.1 766.2,638.2 774.9,636.2 788.0,634.5 795.0,634.0 805.9,635.5 816.8,637.3 829.9,638.4 843.0,637.7 858.2,636.0 869.1,637.7 882.2,639.5 895.3,640.6 908.4,641.4 921.4,641.6 932.3,641.6 945.4,643.6 958.5,646.9 969.4,650.8 980.3,653.0 991.2,652.6 1004.3,651.5 1013.0,650.8 1023.9,649.3 1034.8,649.3 1043.5,649.3 1052.2,650.4 1060.9,653.4 1071.8,657.4 1082.7,661.3 1093.6,663.9 1104.5,669.8 1115.4,677.0 1126.3,684.6 1137.2,689.6 1148.1,693.4 1161.2,697.7 1174.3,701.0" fill="none" stroke="#fdd835" stroke-width="1.3" stroke-linejoin="round"/>
<polyline points="10.5,680.3 15.5,688.3 23.6,681.4 31.7,689.0 39.8,698.4 47.9,698.4 56.0,692.3 64.1,692.7 72.2,696.6 80.3,704.7 88.4,702.1 96.5,688.3 104.6,700.3 112.7,678.7 120.9,672.6 129.0,664.3 137.1,686.4 145.2,682.0 153.3,687.9 161.4,690.1 169.5,689.0 177.6,685.7 185.7,675.5 193.8,680.9 201.9,687.9 210.0,697.7 218.1,708.6 226.2,711.2 234.3,720.2 242.4,712.8 250.5,713.4 258.6,715.8 266.7,720.2 274.8,703.2 282.9,701.0 291.0,690.7 299.1,706.4 307.2,708.0 315.3,715.8 323.5,699.9 331.6,681.8 339.7,675.5 347.8,675.9 355.9,670.0 364.0,679.6 372.1,686.2 380.2,677.4 388.3,672.2 396.4,678.1 404.5,674.4 412.6,687.5 420.7,684.2 428.8,685.3 436.9,681.4 445.0,684.0 453.1,670.4 461.2,659.5 469.3,657.4 477.4,664.3 485.5,653.0 493.6,674.4 501.7,686.4 509.8,708.6 517.9,714.1 526.1,709.3 534.2,704.3 542.3,709.7 550.4,698.4 558.5,687.2 566.6,687.5 574.7,694.0 582.8,682.0 590.9,675.9 599.0,678.7 607.1,684.0 615.2,686.4 623.3,681.8 631.4,685.3 639.5,672.6 647.6,665.4 655.7,665.0 663.8,660.6 671.9,662.8 680.0,657.4 688.1,645.4 696.2,629.4 704.3,625.7 712.4,624.6 720.5,622.9 728.7,630.7 736.8,637.1 744.9,634.9 753.0,633.4 761.1,637.7 769.2,632.7 777.3,638.8 785.4,642.5 793.5,640.3 801.6,648.6 809.7,650.8 817.8,646.0 825.9,635.5 834.0,625.1 842.1,625.7 850.2,628.6 858.3,613.3 866.4,649.1 874.5,656.7 882.6,650.4 890.7,648.6 898.8,650.8 906.9,651.5 915.0,650.8 923.1,648.2 931.3,643.2 939.4,648.6 947.5,646.4 955.6,656.3 963.7,658.4 971.8,661.3 979.9,670.4 988.0,651.5 996.1,645.4 1004.2,641.6 1012.3,638.4 1020.4,627.9 1028.5,648.6 1036.6,648.6 1044.7,648.2 1052.8,656.3 1060.9,693.4 1069.0,703.8 1077.1,695.1 1085.2,696.6 1093.3,698.2 1101.4,709.7 1109.5,714.7 1117.6,717.8 1125.7,709.3 1133.9,690.5 1142.0,686.8 1150.1,691.6 1158.2,690.1 1166.3,697.7 1174.4,701.4" fill="none" stroke="#8e24aa" stroke-width="1.3" stroke-linejoin="round"/>
<g><rect x="15" y="774.5" width="1.3" height="1.0" fill="#ff5252"/><rect x="23" y="774.5" width="1.3" height="1.9" fill="#ff5252"/><rect x="31" y="774.5" width="1.3" height="5.4" fill="#ff5252"/><rect x="39" y="774.5" width="1.3" height="8.0" fill="#ff5252"/><rect x="47" y="774.5" width="1.3" height="9.1" fill="#ff5252"/><rect x="55" y="774.5" width="1.3" height="6.4" fill="#ffcdd2"/><rect x="63" y="774.5" width="1.3" height="8.0" fill="#ffcdd2"/><rect x="72" y="774.5" width="1.3" height="8.0" fill="#ffcdd2"/><rect x="80" y="774.5" width="1.3" height="9.1" fill="#ff5252"/><rect x="88" y="774.5" width="1.3" height="9.1" fill="#ffcdd2"/><rect x="96" y="774.5" width="1.3" height="5.8" fill="#ffcdd2"/><rect x="104" y="774.5" width="1.3" height="6.9" fill="#ff5252"/><rect x="112" y="774.5" width="1.3" height="3.2" fill="#ffcdd2"/><rect x="120" y="773.3" width="1.3" height="1.2" fill="#26a69a"/><rect x="128" y="769.0" width="1.3" height="5.5" fill="#26a69a"/><rect x="136" y="771.1" width="1.3" height="3.4" fill="#b2dfdb"/><rect x="144" y="771.1" width="1.3" height="3.4" fill="#b2dfdb"/><rect x="153" y="773.3" width="1.3" height="1.2" fill="#b2dfdb"/><rect x="161" y="774.5" width="1.3" height="1.0" fill="#ff5252"/><rect x="169" y="774.5" width="1.3" height="1.0" fill="#ff5252"/><rect x="185" y="773.1" width="1.3" height="1.4" fill="#26a69a"/><rect x="193" y="772.2" width="1.3" height="2.3" fill="#26a69a"/><rect x="209" y="774.5" width="1.3" height="1.9" fill="#ff5252"/><rect x="217" y="774.5" width="1.3" height="6.4" fill="#ff5252"/><rect x="225" y="774.5" width="1.3" height="9.7" fill="#ff5252"/><rect x="234" y="774.5" width="1.3" height="12.3" fill="#ff5252"/><rect x="242" y="774.5" width="1.3" height="13.4" fill="#ff5252"/><rect x="250" y="774.5" width="1.3" height="11.9" fill="#ffcdd2"/><rect x="258" y="774.5" width="1.3" height="11.9" fill="#ffcdd2"/><rect x="266" y="774.5" width="1.3" height="12.3" fill="#ff5252"/><rect x="274" y="774.5" width="1.3" height="9.1" fill="#ffcdd2"/><rect x="282" y="774.5" width="1.3" height="6.4" fill="#ffcdd2"/><rect x="290" y="774.5" width="1.3" height="1.4" fill="#ffcdd2"/><rect x="298" y="774.5" width="1.3" height="3.2" fill="#ff5252"/><rect x="307" y="774.5" width="1.3" height="3.2" fill="#ff5252"/><rect x="315" y="774.5" width="1.3" height="5.1" fill="#ff5252"/><rect x="323" y="774.5" width="1.3" height="3.2" fill="#ffcdd2"/><rect x="331" y="773.3" width="1.3" height="1.2" fill="#26a69a"/><rect x="339" y="767.9" width="1.3" height="6.6" fill="#26a69a"/><rect x="347" y="766.1" width="1.3" height="8.4" fill="#26a69a"/><rect x="355" y="762.9" width="1.3" height="11.6" fill="#26a69a"/><rect x="363" y="762.9" width="1.3" height="11.6" fill="#b2dfdb"/><rect x="371" y="765.0" width="1.3" height="9.5" fill="#b2dfdb"/><rect x="379" y="765.0" width="1.3" height="9.5" fill="#26a69a"/><rect x="388" y="763.9" width="1.3" height="10.6" fill="#26a69a"/><rect x="396" y="765.0" width="1.3" height="9.5" fill="#b2dfdb"/><rect x="404" y="765.0" width="1.3" height="9.5" fill="#b2dfdb"/><rect x="412" y="767.9" width="1.3" height="6.6" fill="#b2dfdb"/><rect x="420" y="770.0" width="1.3" height="4.5" fill="#b2dfdb"/><rect x="428" y="770.9" width="1.3" height="3.6" fill="#b2dfdb"/><rect x="436" y="770.9" width="1.3" height="3.6" fill="#b2dfdb"/><rect x="444" y="772.2" width="1.3" height="2.3" fill="#b2dfdb"/><rect x="452" y="770.0" width="1.3" height="4.5" fill="#26a69a"/><rect x="460" y="767.9" width="1.3" height="6.6" fill="#26a69a"/><rect x="469" y="766.1" width="1.3" height="8.4" fill="#26a69a"/><rect x="477" y="766.1" width="1.3" height="8.4" fill="#b2dfdb"/><rect x="485" y="763.9" width="1.3" height="10.6" fill="#26a69a"/><rect x="493" y="767.2" width="1.3" height="7.3" fill="#b2dfdb"/><rect x="509" y="774.5" width="1.3" height="4.7" fill="#ff5252"/><rect x="517" y="774.5" width="1.3" height="11.9" fill="#ff5252"/><rect x="525" y="774.5" width="1.3" height="14.9" fill="#ff5252"/><rect x="533" y="774.5" width="1.3" height="14.9" fill="#ff5252"/><rect x="542" y="774.5" width="1.3" height="16.7" fill="#ff5252"/><rect x="550" y="774.5" width="1.3" height="12.8" fill="#ffcdd2"/><rect x="558" y="774.5" width="1.3" height="9.1" fill="#ffcdd2"/><rect x="566" y="774.5" width="1.3" height="6.2" fill="#ffcdd2"/><rect x="574" y="774.5" width="1.3" height="4.0" fill="#ffcdd2"/><rect x="582" y="774.5" width="1.3" height="1.9" fill="#ffcdd2"/><rect x="590" y="772.2" width="1.3" height="2.3" fill="#26a69a"/><rect x="598" y="771.1" width="1.3" height="3.4" fill="#26a69a"/><rect x="606" y="771.1" width="1.3" height="3.4" fill="#26a69a"/><rect x="614" y="771.1" width="1.3" height="3.4" fill="#b2dfdb"/><rect x="623" y="771.1" width="1.3" height="3.4" fill="#26a69a"/><rect x="631" y="771.1" width="1.3" height="3.4" fill="#b2dfdb"/><rect x="639" y="769.0" width="1.3" height="5.5" fill="#26a69a"/><rect x="647" y="767.2" width="1.3" height="7.3" fill="#26a69a"/><rect x="655" y="766.1" width="1.3" height="8.4" fill="#26a69a"/><rect x="663" y="765.0" width="1.3" height="9.5" fill="#26a69a"/><rect x="671" y="765.0" width="1.3" height="9.5" fill="#26a69a"/><rect x="679" y="763.9" width="1.3" height="10.6" fill="#26a69a"/><rect x="687" y="762.9" width="1.3" height="11.6" fill="#26a69a"/><rect x="695" y="758.1" width="1.3" height="16.4" fill="#26a69a"/><rect x="704" y="755.2" width="1.3" height="19.3" fill="#26a69a"/><rect x="712" y="754.1" width="1.3" height="20.4" fill="#26a69a"/><rect x="720" y="754.1" width="1.3" height="20.4" fill="#b2dfdb"/><rect x="728" y="755.9" width="1.3" height="18.6" fill="#b2dfdb"/><rect x="736" y="759.2" width="1.3" height="15.3" fill="#b2dfdb"/><rect x="744" y="761.1" width="1.3" height="13.4" fill="#b2dfdb"/><rect x="752" y="763.9" width="1.3" height="10.6" fill="#b2dfdb"/><rect x="760" y="766.1" width="1.3" height="8.4" fill="#b2dfdb"/><rect x="768" y="767.9" width="1.3" height="6.6" fill="#b2dfdb"/><rect x="777" y="770.0" width="1.3" height="4.5" fill="#b2dfdb"/><rect x="785" y="772.2" width="1.3" height="2.3" fill="#b2dfdb"/><rect x="793" y="773.3" width="1.3" height="1.2" fill="#b2dfdb"/><rect x="801" y="774.5" width="1.3" height="1.0" fill="#ff5252"/><rect x="809" y="774.5" width="1.3" height="3.2" fill="#ff5252"/><rect x="817" y="774.5" width="1.3" height="4.0" fill="#ff5252"/><rect x="825" y="774.5" width="1.3" height="3.2" fill="#ffcdd2"/><rect x="833" y="774.5" width="1.3" height="1.0" fill="#ffcdd2"/><rect x="841" y="773.1" width="1.3" height="1.4" fill="#26a69a"/><rect x="849" y="773.1" width="1.3" height="1.4" fill="#26a69a"/><rect x="858" y="769.8" width="1.3" height="4.7" fill="#26a69a"/><rect x="866" y="772.2" width="1.3" height="2.3" fill="#b2dfdb"/><rect x="874" y="774.5" width="1.3" height="1.0" fill="#ff5252"/><rect x="882" y="774.5" width="1.3" height="1.9" fill="#ff5252"/><rect x="890" y="774.5" width="1.3" height="1.9" fill="#ff5252"/><rect x="898" y="774.5" width="1.3" height="3.2" fill="#ff5252"/><rect x="906" y="774.5" width="1.3" height="3.2" fill="#ff5252"/><rect x="914" y="774.5" width="1.3" height="4.0" fill="#ff5252"/><rect x="922" y="774.5" width="1.3" height="4.0" fill="#ff5252"/><rect x="930" y="774.5" width="1.3" height="3.2" fill="#ffcdd2"/><rect x="939" y="774.5" width="1.3" height="4.3" fill="#ff5252"/><rect x="947" y="774.5" width="1.3" height="4.3" fill="#ffcdd2"/><rect x="955" y="774.5" width="1.3" height="4.3" fill="#ff5252"/><rect x="963" y="774.5" width="1.3" height="5.4" fill="#ff5252"/><rect x="971" y="774.5" width="1.3" height="6.2" fill="#ff5252"/><rect x="979" y="774.5" width="1.3" height="6.9" fill="#ff5252"/><rect x="987" y="774.5" width="1.3" height="6.2" fill="#ffcdd2"/><rect x="995" y="774.5" width="1.3" height="4.3" fill="#ffcdd2"/><rect x="1003" y="774.5" width="1.3" height="1.9" fill="#ffcdd2"/><rect x="1020" y="773.1" width="1.3" height="1.4" fill="#26a69a"/><rect x="1028" y="773.3" width="1.3" height="1.2" fill="#b2dfdb"/><rect x="1052" y="774.5" width="1.3" height="1.0" fill="#ff5252"/><rect x="1060" y="774.5" width="1.3" height="6.2" fill="#ff5252"/><rect x="1068" y="774.5" width="1.3" height="11.2" fill="#ff5252"/><rect x="1076" y="774.5" width="1.3" height="12.3" fill="#ff5252"/><rect x="1084" y="774.5" width="1.3" height="13.0" fill="#ff5252"/><rect x="1093" y="774.5" width="1.3" height="13.0" fill="#ff5252"/><rect x="1101" y="774.5" width="1.3" height="15.2" fill="#ff5252"/><rect x="1109" y="774.5" width="1.3" height="16.2" fill="#ff5252"/><rect x="1117" y="774.5" width="1.3" height="16.2" fill="#ff5252"/><rect x="1125" y="774.5" width="1.3" height="14.9" fill="#ffcdd2"/><rect x="1133" y="774.5" width="1.3" height="11.2" fill="#ffcdd2"/><rect x="1141" y="774.5" width="1.3" height="8.0" fill="#ffcdd2"/><rect x="1149" y="774.5" width="1.3" height="6.2" fill="#ffcdd2"/><rect x="1157" y="774.5" width="1.3" height="4.0" fill="#ffcdd2"/><rect x="1165" y="774.5" width="1.3" height="4.0" fill="#ffcdd2"/><rect x="1174" y="774.5" width="1.3" height="4.3" fill="#ff5252"/></g>
<polyline points="9.8,774.4 26.8,777.7 48.6,782.5 70.4,786.8 92.2,791.2 105.3,793.4 114.0,794.0 127.1,792.7 140.1,791.2 157.6,790.1 175.0,790.3 190.3,789.7 203.4,789.4 216.4,791.6 229.5,795.1 244.8,799.9 260.0,805.3 273.1,809.7 286.2,811.4 299.3,812.3 314.5,814.1 327.6,814.7 342.9,811.9 358.1,806.9 375.6,801.4 393.0,796.0 400.0,793.8 413.1,791.2 426.2,789.4 443.6,787.9 456.7,785.7 469.8,782.5 482.8,779.2 493.7,776.4 502.5,775.5 511.2,777.7 522.1,782.5 535.1,787.9 548.2,793.4 561.3,796.6 574.4,798.4 585.3,798.4 596.2,797.3 609.3,796.2 624.5,794.4 639.8,792.7 652.9,789.7 665.9,786.4 679.0,782.5 689.9,778.1 698.6,772.7 705.2,767.9 716.1,760.2 727.0,753.1 740.1,747.6 753.1,743.3 766.2,740.6 779.3,738.9 792.4,738.2 795.0,738.2 808.1,740.0 825.5,741.5 838.6,740.4 851.7,739.5 866.9,738.0 882.2,738.9 895.3,739.5 908.4,741.1 923.6,742.8 938.9,744.3 954.1,746.1 969.4,748.0 984.6,750.9 999.9,752.4 1013.0,752.6 1026.1,752.0 1039.1,752.0 1052.2,752.4 1065.3,755.2 1078.4,759.6 1091.5,765.0 1104.5,771.1 1115.4,777.0 1126.3,781.4 1137.2,784.6 1148.1,786.4 1161.2,787.9 1174.3,789.4" fill="none" stroke="#ff6d00" stroke-width="1.3" stroke-linejoin="round"/>
<polyline points="9.8,774.4 15.5,775.9 23.5,777.0 31.2,780.3 39.9,785.1 47.9,789.0 56.0,790.7 64.1,791.8 72.1,793.4 80.4,796.6 88.5,798.4 96.6,797.7 104.6,799.2 112.7,795.5 121.0,791.2 129.0,787.0 137.1,787.9 145.2,787.5 153.2,788.6 161.5,790.1 169.6,790.7 177.6,790.1 185.7,788.1 193.8,787.5 201.8,788.3 209.9,791.2 218.2,796.0 226.3,800.5 234.3,807.5 242.4,810.8 250.4,813.6 258.7,816.2 266.8,819.1 274.9,817.8 282.9,816.2 291.0,813.0 299.1,814.7 307.1,816.2 315.4,818.4 323.5,817.3 331.5,813.0 339.6,806.4 347.7,801.4 356.0,796.2 364.0,793.4 372.1,792.7 380.1,790.7 388.2,787.3 396.3,785.7 400.0,785.1 404.4,784.2 412.4,785.3 420.7,785.5 428.8,786.0 436.8,785.5 444.9,785.3 453.2,783.1 461.3,778.5 469.3,774.4 477.4,772.7 485.4,768.3 493.5,769.4 501.8,772.7 509.9,780.3 517.9,790.7 526.0,797.3 534.1,801.0 542.1,805.3 550.4,806.4 558.5,804.7 566.5,803.2 574.6,803.2 582.7,799.9 590.7,796.2 599.0,793.4 607.1,792.5 615.1,792.3 623.2,791.2 631.3,790.5 639.3,787.3 647.4,783.6 655.7,780.7 663.8,777.0 671.8,774.4 679.9,771.6 688.0,766.8 696.0,757.4 704.3,749.8 712.4,743.3 720.4,738.2 728.5,735.6 736.6,735.0 744.6,734.1 752.9,733.9 761.0,734.5 769.0,734.5 777.1,735.6 785.2,737.2 793.2,738.2 795.0,738.2 801.5,740.0 809.6,742.2 817.7,743.3 825.7,743.3 834.0,741.1 842.1,740.0 850.1,739.3 858.2,735.0 866.5,736.3 874.6,738.2 882.6,740.0 890.7,740.6 898.8,742.2 906.8,743.3 914.9,745.0 923.2,746.1 931.2,746.1 939.3,747.0 947.4,748.0 955.4,749.8 963.7,752.0 971.8,754.1 979.9,756.8 987.9,756.5 996.0,755.9 1004.0,755.0 1012.3,753.5 1020.4,750.7 1028.5,750.7 1036.5,750.9 1044.6,751.3 1052.7,752.6 1060.9,759.6 1069.0,767.2 1077.1,771.1 1085.1,774.4 1093.2,777.7 1101.3,782.9 1109.6,787.9 1117.6,792.7 1125.7,794.2 1133.7,793.4 1141.8,792.3 1149.9,791.8 1157.9,791.2 1166.2,791.6 1174.3,792.7" fill="none" stroke="#2962ff" stroke-width="1.3" stroke-linejoin="round"/>
<g shape-rendering="crispEdges"><rect x="11" y="606" width="1813" height="1" fill="#e0e3eb"/><rect x="11" y="728" width="1813" height="1" fill="#e0e3eb"/><rect x="1760" y="28" width="64" height="824" fill="#ffffff"/><rect x="1760" y="606" width="64" height="1" fill="#e0e3eb"/><rect x="1760" y="728" width="64" height="1" fill="#e0e3eb"/><rect x="11" y="825" width="1813" height="1" fill="#505050"/><rect x="1759" y="28" width="1" height="824" fill="#505050"/></g>
<g><text x="1768" y="71.2" font-size="11" fill="#2a2e39">70,800.0</text><text x="1768" y="106.2" font-size="11" fill="#2a2e39">70,400.0</text><text x="1768" y="142.2" font-size="11" fill="#2a2e39">70,000.0</text><text x="1768" y="177.2" font-size="11" fill="#2a2e39">69,600.0</text><text x="1768" y="213.2" font-size="11" fill="#2a2e39">69,200.0</text><text x="1768" y="248.2" font-size="11" fill="#2a2e39">68,800.0</text><text x="1768" y="284.2" font-size="11" fill="#2a2e39">68,400.0</text><text x="1768" y="319.2" font-size="11" fill="#2a2e39">68,000.0</text><text x="1768" y="355.2" font-size="11" fill="#2a2e39">67,600.0</text><text x="1768" y="390.2" font-size="11" fill="#2a2e39">67,200.0</text><text x="1768" y="426.2" font-size="11" fill="#2a2e39">66,800.0</text><text x="1768" y="461.2" font-size="11" fill="#2a2e39">66,400.0</text><text x="1768" y="497.2" font-size="11" fill="#2a2e39">66,000.0</text><text x="1768" y="532.2" font-size="11" fill="#2a2e39">65,600.0</text><text x="1768" y="568.2" font-size="11" fill="#2a2e39">65,200.0</text><text x="1768" y="603.2" font-size="11" fill="#2a2e39">64,800.0</text><text x="1768" y="612.7" font-size="11" fill="#2a2e39">80.00</text><text x="1768" y="656.7" font-size="11" fill="#2a2e39">60.00</text><text x="1768" y="700.7" font-size="11" fill="#2a2e39">40.00</text><text x="1768" y="745.7" font-size="11" fill="#2a2e39">500.0</text><text x="1768" y="777.7" font-size="11" fill="#2a2e39">0.0</text><text x="1768" y="810.7" font-size="11" fill="#2a2e39">−500.0</text></g>
<rect x="1760" y="603" width="64" height="3" fill="#fff"/>
<rect x="1760" y="606" width="64" height="1" fill="#e0e3eb"/>
<rect x="1760" y="607" width="64" height="2" fill="#fff"/>
<path d="M1760 47 H1812 Q1815 47 1815 50 V61 Q1815 64 1812 64 H1760 Z" fill="#ff0000"/><text x="1768" y="59.5" font-size="11" font-weight="bold" fill="#fff"></text>
<path d="M1760 173 H1812 Q1815 173 1815 176 V187 Q1815 190 1812 190 H1760 Z" fill="#ff0000"/><text x="1768" y="185.5" font-size="11" font-weight="bold" fill="#fff">69,525.5</text>
<path d="M1760 311 H1812 Q1815 311 1815 314 V325 Q1815 328 1812 328 H1760 Z" fill="#4caf50"/><text x="1768" y="323.5" font-size="11" font-weight="bold" fill="#fff">67,969.9</text>
<path d="M1760 367 H1812 Q1815 367 1815 370 V381 Q1815 384 1812 384 H1760 Z" fill="#4caf50"/><text x="1768" y="379.5" font-size="11" font-weight="bold" fill="#fff">67,338.6</text>
<path d="M1760 567 H1812 Q1815 567 1815 570 V581 Q1815 584 1812 584 H1760 Z" fill="#4caf50"/><text x="1768" y="579.5" font-size="11" font-weight="bold" fill="#fff">65,084.0</text>
<path d="M1760 269 H1812 Q1815 269 1815 272 V296 Q1815 299 1812 299 H1760 Z" fill="#ff0000"/><text x="1768" y="281.0" font-size="11" font-weight="bold" fill="#fff">68,446.6</text><text x="1768" y="295.0" font-size="11" fill="#fff">20:38</text>
<rect x="1760" y="28" width="64" height="33" fill="#fff"/>
<rect x="1763.5" y="30.5" width="58" height="27" rx="4" fill="#fff" stroke="#ececec"/>
<text x="1772.4" y="48.9" font-size="12" fill="#131722" textLength="20.2" lengthAdjust="spacingAndGlyphs">USD</text>
<rect x="1759" y="28" width="1" height="34" fill="#505050"/>
<text x="185.5" y="842" font-size="11" fill="#2a2e39" text-anchor="middle">11</text>
<text x="379.5" y="842" font-size="11" fill="#2a2e39" text-anchor="middle">12</text>
<text x="574.5" y="842" font-size="11" fill="#2a2e39" text-anchor="middle">13</text>
<text x="768.5" y="842" font-size="11" fill="#2a2e39" text-anchor="middle">14</text>
<text x="963.5" y="842" font-size="11" fill="#2a2e39" text-anchor="middle">15</text>
<text x="1157.5" y="842" font-size="11" fill="#2a2e39" text-anchor="middle">16</text>
<text x="1352.5" y="842" font-size="11" fill="#2a2e39" text-anchor="middle">17</text>
<text x="1546.5" y="842" font-size="11" fill="#2a2e39" text-anchor="middle">18</text>
<text x="1741.5" y="842" font-size="11" fill="#2a2e39" text-anchor="middle">19</text>
<text x="18" y="45.8" font-size="12" fill="#4a4a4a" textLength="181.5" lengthAdjust="spacingAndGlyphs">Bitcoin / U.S. Dollar · 1h · Kraken</text>
<text x="207" y="45.8" font-size="12" fill="#4a4a4a" textLength="54.6" lengthAdjust="spacingAndGlyphs">O<tspan fill="#6b1c1c">68,600.5</tspan></text>
<text x="269.2" y="45.8" font-size="12" fill="#4a4a4a" textLength="53.4" lengthAdjust="spacingAndGlyphs">H<tspan fill="#6b1c1c">68,699.9</tspan></text>
<text x="330.2" y="45.8" font-size="12" fill="#4a4a4a" textLength="52.8" lengthAdjust="spacingAndGlyphs">L<tspan fill="#6b1c1c">68,320.0</tspan></text>
<text x="390.4" y="45.8" font-size="12" fill="#4a4a4a" textLength="53.2" lengthAdjust="spacingAndGlyphs">C<tspan fill="#6b1c1c">68,446.6</tspan></text>
<text x="451.9" y="45.8" font-size="12" fill="#6b1c1c" textLength="84.4" lengthAdjust="spacingAndGlyphs">−153.8 (−0.22%)</text>
<text x="18" y="63.2" font-size="12" fill="#4a4a4a" textLength="152.2" lengthAdjust="spacingAndGlyphs">MA (100, close, 0, SMA, 100)</text>
<text x="177.5" y="63.2" font-size="12" fill="#f23645" textLength="46.9" lengthAdjust="spacingAndGlyphs">68,335.6</text>
<text x="18.1" y="625.7" font-size="12" fill="#4a4a4a" textLength="140.1" lengthAdjust="spacingAndGlyphs">RSI (14, close, SMA, 14, 2)</text>
<text x="165.9" y="625.7" font-size="12" fill="#8e24aa" textLength="29.2" lengthAdjust="spacingAndGlyphs">37.81</text>
<text x="202.9" y="625.7" font-size="12" fill="#fdd835" textLength="29.2" lengthAdjust="spacingAndGlyphs">38.54</text>
<text x="240.9" y="625.7" font-size="12" fill="#4a4a4a">∅</text>
<text x="255.2" y="625.7" font-size="12" fill="#4a4a4a">∅</text>
<text x="18.1" y="748" font-size="12" fill="#4a4a4a" textLength="184.6" lengthAdjust="spacingAndGlyphs">MACD (12, 26, close, 9, EMA, EMA)</text>
<text x="211" y="748" font-size="12" fill="#f23645" textLength="29" lengthAdjust="spacingAndGlyphs">−55.0</text>
<text x="247.6" y="748" font-size="12" fill="#2962ff" textLength="35.3" lengthAdjust="spacingAndGlyphs">−280.6</text>
<text x="290.6" y="748" font-size="12" fill="#ff6d00" textLength="35.9" lengthAdjust="spacingAndGlyphs">−225.7</text>
<g fill="none" stroke="#9c27b0" stroke-width="1.6"><path d="M1165.9 590.9 A9.3 9.3 0 1 1 1167.7 599.5"/></g>
<path d="M1177.7 588.3 L1170.6 593.6 L1178.3 593.6 L1171.3 598.4" fill="none" stroke="#9c27b0" stroke-width="1.6" stroke-linejoin="round"/>
<path d="M1163.9 592.1 Q1164.7 596.1 1168.7 596.9 Q1164.7 597.7 1163.9 601.7 Q1163.1 597.7 1159.1 596.9 Q1163.1 596.1 1163.9 592.1 Z" fill="#7c4dff"/>
<path d="M12 875 H24 V890 H18 V880.6 H12 Z" fill="#131722"/>
<circle cx="29" cy="877.9" r="3" fill="#131722"/>
<path d="M35.3 875 H41.8 L35.9 890 H29 Z" fill="#131722"/>
<text x="49" y="889.8" font-size="21.5" font-weight="bold" fill="#131722" textLength="120.6" lengthAdjust="spacingAndGlyphs">TradingView</text>
</svg></body></html>
